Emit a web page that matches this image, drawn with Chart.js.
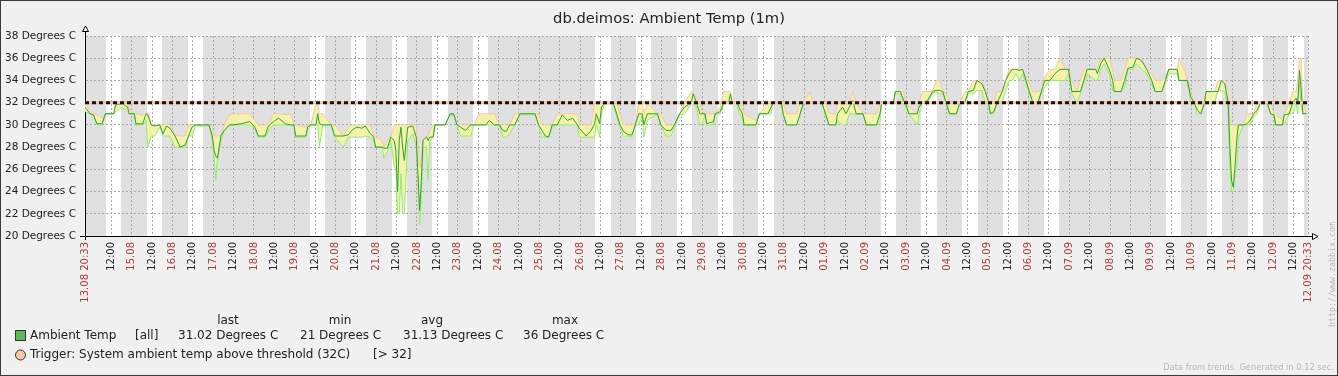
<!DOCTYPE html>
<html>
<head>
<meta charset="utf-8">
<title>db.deimos: Ambient Temp (1m)</title>
<script src="https://cdn.jsdelivr.net/npm/chart.js@4.4.1/dist/chart.umd.min.js"></script>
<style>
  html, body { margin: 0; padding: 0; background: #f0f0f0; }
  #wrap { width: 1338px; height: 376px; }
</style>
</head>
<body>
<div id="wrap"><canvas id="graph" width="1338" height="376"></canvas></div>
<script>
// Graph: db.deimos ambient temperature, 30 days of hourly trends
const graphTitle = 'db.deimos: Ambient Temp (1m)';
const startLabel = '13.08 20:33';
const endLabel = '12.09 20:33';
const startClock = 20 + 33 / 60;   // first sample at 20:33
const spanHours = 720;
const workStart = 9, workEnd = 18;

const dayLabels = ['14.08', '15.08', '16.08', '17.08', '18.08', '19.08', '20.08', '21.08', '22.08', '23.08',
  '24.08', '25.08', '26.08', '27.08', '28.08', '29.08', '30.08', '31.08', '01.09', '02.09',
  '03.09', '04.09', '05.09', '06.09', '07.09', '08.09', '09.09', '10.09', '11.09', '12.09'];
const weekendDays = ['17.08', '18.08', '24.08', '25.08', '31.08', '01.09', '07.09', '08.09'];

const yTicks = [20, 22, 24, 26, 28, 30, 32, 34, 36, 38];
const units = 'Degrees C';
const triggerValue = 32;

// hours since 13.08 20:33, with avg / min / max of the trend
const hours = [0, 3, 5, 7, 10, 12, 17, 18, 22, 25, 26, 29, 30, 34, 36, 37, 39, 41, 44, 46, 48, 50, 53, 56, 59, 61, 63, 65, 73, 75,
  76, 77, 78, 80, 82, 85, 87, 92, 97, 100, 102, 106, 108, 111, 114, 118, 121, 123, 124, 130, 131, 133, 136, 137, 138, 140, 145, 147, 152, 155,
  157, 160, 163, 165, 168, 170, 171, 175, 176, 178, 180, 182, 183, 184, 185, 186, 187, 188, 190, 193, 195, 196, 197, 198, 199, 201, 202, 203, 205, 206,
  212, 215, 217, 219, 221, 224, 227, 229, 232, 236, 238, 241, 244, 246, 248, 250, 253, 256, 265, 267, 269, 271, 273, 275, 278, 281, 284, 287, 290, 291,
  295, 298, 300, 301, 303, 304, 306, 311, 313, 315, 317, 320, 322, 324, 326, 328, 329, 331, 337, 339, 342, 345, 347, 350, 353, 357, 358, 360, 362, 363,
  365, 366, 370, 371, 374, 376, 379, 380, 381, 384, 385, 387, 388, 395, 397, 402, 404, 405, 410, 411, 413, 419, 421, 423, 427, 428, 434, 436, 438, 442,
  443, 446, 448, 450, 452, 454, 458, 460, 466, 468, 469, 476, 477, 480, 482, 483, 485, 490, 491, 493, 496, 499, 501, 503, 505, 507, 509, 513, 515, 518,
  520, 523, 525, 528, 530, 532, 533, 535, 537, 540, 542, 544, 546, 548, 550, 552, 554, 556, 558, 561, 563, 565, 568, 571, 574, 577, 579, 581, 584, 586,
  588, 590, 595, 596, 598, 600, 603, 605, 606, 610, 612, 614, 617, 619, 622, 625, 628, 630, 634, 636, 638, 643, 644, 647, 649, 651, 653, 655, 657, 659,
  660, 665, 667, 669, 671, 673, 674, 675, 676, 677, 678, 679, 682, 684, 686, 688, 690, 692, 696, 698, 700, 701, 705, 706, 709, 711, 713, 714, 715, 716,
  717, 719];
const avgTemp = [31.6, 31, 30.9, 30.1, 30.1, 31, 31, 31.8, 31.9, 31.6, 31, 31, 30.1, 30.1, 31, 30.9, 30, 29.9, 30, 29.2, 29.9, 29.7, 29, 28, 28.2, 29, 29.8, 30, 30, 29,
  27.7, 27.2, 27, 29, 29.5, 30, 30, 30.1, 30.3, 29.8, 29, 29, 29.9, 30.3, 30.6, 30.1, 30, 30, 29, 29, 29.8, 30, 30, 31, 30.1, 30, 30, 29, 29, 29.1,
  29.5, 29.8, 29.7, 29.9, 29.2, 28.9, 28, 28, 27.9, 27.9, 28.9, 28.6, 27.7, 24, 28.6, 29.8, 28, 26.8, 29.8, 29.9, 28.9, 25.6, 22.3, 25, 28.6, 28.9, 28.6, 28.9, 28.9, 30,
  30, 31, 31, 30, 29.8, 29.5, 30, 30, 30, 30, 30.4, 30, 30, 29.5, 29.4, 30, 30, 31, 31, 30, 29.5, 29, 28.9, 30, 30, 30.9, 30.4, 30.6, 30, 29.7,
  29, 29.5, 30.1, 31, 30.1, 31.6, 32, 32, 31, 30, 29.4, 29.1, 29.1, 30, 31, 31, 30, 31, 31, 30, 29.5, 29.5, 30, 31, 31.6, 32, 32.8, 32, 31, 31,
  31, 30.1, 30.3, 31, 31.2, 32, 32.1, 32.8, 32, 32, 31.6, 31, 30, 30, 31, 31, 31.6, 32, 32, 31, 30, 30, 31, 32, 32, 32, 31.9, 31, 30, 30,
  31, 31.6, 31, 31.6, 32.2, 31, 31, 30, 30, 31, 32, 32, 33, 33, 32.2, 32, 31, 31, 31.6, 32, 32.2, 33, 33.1, 33.1, 33, 32, 31, 31, 32, 32,
  33, 33.1, 34, 33.7, 33, 32, 31, 31.2, 32, 33, 34, 34.6, 35, 35, 34.9, 35, 34, 33, 32, 32, 33, 34, 34, 34.6, 35, 35, 35, 33, 33, 33,
  34, 35, 35, 34.6, 35.5, 36, 35, 34, 33, 33, 34, 35.1, 35.2, 36, 35.8, 35, 34, 33, 33, 34, 35, 35, 34, 34, 34, 32.5, 32, 31.3, 31, 32,
  33, 33, 33, 34, 33.7, 32, 28, 25, 24.4, 26.2, 28.6, 30, 30, 30.1, 30.4, 31, 31.3, 32, 32, 31, 30.9, 30, 30, 30.9, 31, 32, 32.4, 32, 34.9, 33.1,
  31, 31.02];
const minTemp = [31.2, 31, 30.9, 30, 30, 31, 31, 31.2, 31.6, 31.2, 31, 31, 30, 30, 30.4, 28, 29, 29, 29.8, 29, 29, 29, 28, 28, 28, 29, 29, 29.9, 29.9, 28.6,
  27.1, 25, 27, 28.6, 29.5, 30, 30, 30, 30, 29.7, 28.9, 28.9, 29.5, 30, 30, 30, 30, 30, 28.9, 28.9, 29.5, 30, 30, 30, 28, 30, 30, 28.9, 28, 28.9,
  28.9, 28.9, 28.9, 29, 28.9, 28.6, 28, 28, 27, 27.6, 28.6, 26.2, 26.2, 22, 22, 25.6, 22, 22, 28.6, 29.2, 28, 25, 21, 23.8, 28, 28, 25, 28.6, 28.9, 30,
  30, 30.9, 30.9, 30, 29, 29, 29, 30, 30, 30, 30, 30, 30, 28.9, 28.9, 29.2, 30, 30.9, 30.9, 30, 28.9, 28.9, 28.9, 29.8, 30, 30, 30, 30, 30, 28.9,
  28.9, 28.9, 28.9, 30.1, 28.9, 31, 31.9, 31.9, 30.7, 29.8, 29, 29, 28.9, 30, 30, 30.9, 28.9, 30.4, 31, 30, 29, 29, 29.8, 30.9, 31, 31.9, 32, 31.6, 30, 30,
  30.9, 30, 30, 30.9, 31, 31.9, 32, 32, 32, 31.9, 31, 30.7, 30, 30, 31, 31, 31, 32, 32, 30.9, 30, 30, 30.9, 32, 32, 32, 31.9, 30.9, 30, 30,
  30.4, 30, 30, 31, 31, 30.9, 31, 30, 30, 30.4, 32, 32, 32.8, 32.8, 32, 31.6, 31, 30, 31, 32, 32, 32.8, 33, 32.8, 32.8, 31.9, 31, 31, 31.9, 32,
  32.8, 32.8, 33.1, 33.1, 32, 31.6, 31, 31, 32, 32.1, 33, 34, 34, 34.6, 34, 34.6, 33.7, 32.8, 32, 32, 32.8, 33.4, 34, 34, 34, 34, 34.6, 32.8, 32, 32.8,
  33.7, 34.6, 34, 34, 35, 35.5, 34.6, 33.1, 33, 33, 33.4, 35, 35, 35.5, 35, 34.6, 33.7, 33, 33, 33.7, 34.6, 34.6, 34, 34, 33.9, 32, 31.9, 31, 31, 32,
  32, 32, 33, 33.1, 33, 31.6, 26.2, 24, 24, 25.6, 26.2, 28.9, 30, 30, 30, 30.7, 31, 31.9, 31.9, 31, 30.7, 30, 30, 30.1, 31, 31, 32, 31, 33.7, 31.6,
  31, 31];
const maxTemp = [32, 31.2, 31, 30.9, 30.6, 31, 31, 32, 32, 32, 31.3, 31, 31, 30.9, 31.1, 31.1, 30, 30, 30, 30, 30.1, 30, 29.1, 29, 29, 30, 30, 30, 30, 29.8,
  29, 29, 29, 29, 30, 30.9, 31, 31, 31, 30.4, 30, 30, 30.1, 31, 31, 30.9, 31, 30.1, 30, 29.8, 30, 30, 32, 32, 31, 31, 30, 30, 29, 29.7,
  30, 30, 30, 30, 30, 29, 28.9, 28.6, 28, 28.6, 28.9, 30, 30, 30, 30, 30, 30, 30, 30, 30, 30, 28, 26.2, 26.8, 28.9, 28.9, 28.9, 29.5, 30, 30,
  30, 31, 31, 30, 30, 30, 30, 30, 31, 31, 31, 31, 30, 30, 30, 30, 31, 31, 31, 31, 30, 30, 30, 30, 31, 31, 31, 31, 31, 30,
  30, 30, 32, 32, 32, 32, 32, 32, 32, 31, 30, 30, 30, 30, 32, 32, 31, 32, 31, 31, 30, 30, 30, 31, 32, 33, 33, 32, 32, 31,
  31, 31, 31, 31, 31.6, 33, 33, 33, 32, 32, 32, 31.6, 31, 30.4, 31, 32, 32, 32, 32, 32, 31, 31, 32, 32, 33, 32, 32, 32, 31, 31,
  32, 32, 32, 32, 33, 32, 31, 31, 31, 31.9, 32, 32, 33, 33, 33, 32, 31.6, 31, 32, 33, 33, 33, 34, 34, 33, 32.8, 32, 32, 32, 33,
  33, 34, 34, 34, 33.1, 32, 32, 32, 33, 33, 34, 35, 35, 35, 35, 35, 34.3, 33.7, 33, 33, 33.1, 34.3, 35, 35, 36, 35, 35, 34, 33, 34,
  35, 35, 35, 35, 36, 36, 36, 35, 34, 34, 35, 36, 36, 36, 36, 35, 34.6, 34, 34, 34.3, 35, 35, 36, 35, 34, 33, 32, 32, 32, 32,
  33, 33, 34, 34, 34, 33, 30, 30, 30, 30, 30, 30, 30, 31, 31, 31, 32, 32, 32, 32, 31, 31, 30.4, 31, 32, 33, 33, 34, 36, 36,
  32, 31];

const legendHeads = ['last', 'min', 'avg', 'max'];
const itemName = 'Ambient Temp';
const itemFunc = '[all]';
const legendStats = ['31.02 Degrees C', '21 Degrees C', '31.13 Degrees C', '36 Degrees C'];
const triggerText = 'Trigger: System ambient temp above threshold (32C)';
const triggerExpr = '[> 32]';
const footerText = 'Data from trends. Generated in 0.12 sec.';
const watermark = 'http://www.zabbix.com';

// x ticks: start, every 00:00 and 12:00, end
const xTicks = [{ value: 0, label: startLabel }];
dayLabels.forEach((d, i) => {
    const midnight = 24 * (i + 1) - startClock;
    if (midnight > 6) xTicks.push({ value: midnight, label: d }); // 14.08 is too close to the start label
    xTicks.push({ value: midnight + 12, label: '12:00' });
});
xTicks.push({ value: spanHours, label: endLabel });

const toPoints = vals => hours.map((h, i) => ({ x: h, y: vals[i] }));
const thresholdLine = [{ x: 0, y: triggerValue }, { x: spanHours, y: triggerValue }];

const zabbixFrame = {
    id: 'zabbixFrame',
    beforeDraw(chart) {
        const { ctx, chartArea: a } = chart;
        const x = chart.scales.x;
        ctx.save();
        ctx.fillStyle = '#f0f0f0';
        ctx.fillRect(0, 0, chart.width, chart.height);
        ctx.strokeStyle = '#3a3a3a';
        ctx.lineWidth = 1;
        ctx.strokeRect(0.5, 0.5, chart.width - 1, chart.height - 1);

        // non-working time grey, working hours white
        ctx.fillStyle = '#e0e0e0';
        ctx.fillRect(a.left, a.top, a.right - a.left, a.bottom - a.top);
        ctx.fillStyle = '#ffffff';
        dayLabels.forEach((d, i) => {
            if (weekendDays.includes(d)) return;
            const midnight = 24 * (i + 1) - startClock;
            const x1 = Math.round(x.getPixelForValue(midnight + workStart));
            const x2 = Math.round(x.getPixelForValue(midnight + workEnd));
            ctx.fillRect(x1, a.top, x2 - x1, a.bottom - a.top);
        });

        ctx.fillStyle = '#222';
        ctx.font = '14.7px "DejaVu Sans"';
        ctx.textAlign = 'center';
        ctx.textBaseline = 'middle';
        ctx.fillText(graphTitle, chart.width / 2, 19);
        ctx.restore();
    },
    afterDraw(chart) {
        const { ctx, chartArea: a } = chart;
        ctx.save();
        ctx.strokeStyle = '#000';
        ctx.lineWidth = 1;

        // axis extensions and arrow heads
        const ax = Math.round(a.left) + 0.5;
        const ay = Math.round(a.bottom) + 0.5;
        ctx.beginPath();
        ctx.moveTo(ax, 31); ctx.lineTo(ax, a.top);
        ctx.moveTo(ax, a.bottom); ctx.lineTo(ax, a.bottom + 4);
        ctx.moveTo(a.left - 5, ay); ctx.lineTo(a.left, ay);
        ctx.moveTo(a.right, ay); ctx.lineTo(a.right + 5, ay);
        ctx.stroke();
        ctx.fillStyle = '#fff';
        ctx.beginPath();
        ctx.moveTo(ax, 26); ctx.lineTo(ax + 3, 31.5); ctx.lineTo(ax - 3, 31.5); ctx.closePath();
        ctx.fill(); ctx.stroke();
        ctx.beginPath();
        ctx.moveTo(a.right + 10, ay); ctx.lineTo(a.right + 4.5, ay - 3); ctx.lineTo(a.right + 4.5, ay + 3); ctx.closePath();
        ctx.fill(); ctx.stroke();

        // legend table
        ctx.fillStyle = '#222';
        ctx.font = '12px "DejaVu Sans"';
        ctx.textBaseline = 'middle';
        ctx.textAlign = 'center';
        const headX = [228, 340, 432, 565];
        legendHeads.forEach((h, i) => ctx.fillText(h, headX[i], 321));

        ctx.textAlign = 'left';
        ctx.fillStyle = '#5cb85c';
        ctx.fillRect(15.5, 330.5, 10, 10);
        ctx.strokeStyle = '#333';
        ctx.strokeRect(15.5, 330.5, 10, 10);
        ctx.fillStyle = '#222';
        ctx.fillText(itemName, 30, 336);
        ctx.fillText(itemFunc, 135, 336);
        const statX = [178, 300, 403, 523];
        legendStats.forEach((s, i) => ctx.fillText(s, statX[i], 336));

        ctx.beginPath();
        ctx.arc(20.5, 355, 5, 0, Math.PI * 2);
        ctx.fillStyle = '#fcc9aa';
        ctx.fill();
        ctx.stroke();
        ctx.fillStyle = '#222';
        ctx.fillText(triggerText, 30, 355);
        ctx.fillText(triggerExpr, 373, 355);

        // footer + vertical watermark
        ctx.fillStyle = '#b8b8b8';
        ctx.font = '8.3px "DejaVu Sans"';
        ctx.textAlign = 'right';
        ctx.fillText(footerText, 1334, 368);
        ctx.translate(1333, 327);
        ctx.rotate(-Math.PI / 2);
        ctx.textAlign = 'left';
        ctx.font = '8.3px "DejaVu Sans Mono"';
        ctx.fillText(watermark, 0, 0);
        ctx.restore();
    }
};

Chart.defaults.font.family = '"DejaVu Sans"';

new Chart(document.getElementById('graph'), {
    type: 'line',
    data: {
        datasets: [
            { label: 'threshold', data: thresholdLine, borderColor: '#111', borderWidth: 3, borderDash: [4, 3] },
            { label: 'threshold band', data: thresholdLine, borderColor: '#f7c3a3', borderWidth: 3 },
            { label: 'avg', data: toPoints(avgTemp), borderColor: '#30a030', borderWidth: 1 },
            { label: 'min', data: toPoints(minTemp), borderColor: '#90ee70', borderWidth: 1 },
            { label: 'max', data: toPoints(maxTemp), borderColor: '#f8c6a6', borderWidth: 1, fill: '-1', backgroundColor: '#f2f2aa' }
        ]
    },
    options: {
        responsive: false,
        animation: false,
        devicePixelRatio: 1,
        layout: { padding: { top: 36, right: 30, left: 0, bottom: 0 } },
        elements: { point: { radius: 0 }, line: { tension: 0 } },
        plugins: {
            legend: { display: false },
            tooltip: { enabled: false },
            title: { display: false }
        },
        scales: {
            x: {
                type: 'linear',
                min: 0,
                max: spanHours,
                afterBuildTicks: scale => { scale.ticks = xTicks.map(t => ({ value: t.value })); },
                afterFit: scale => { scale.height = 140; },
                grid: { color: '#a8a8a8', drawTicks: false },
                border: { display: true, color: '#000', width: 1, dash: [2, 2] },
                ticks: {
                    autoSkip: false,
                    minRotation: 90,
                    maxRotation: 90,
                    padding: 6,
                    font: { size: 10 },
                    color: ctx => (xTicks[ctx.index] && xTicks[ctx.index].label !== '12:00') ? '#aa3c3c' : '#222',
                    callback: (v, i) => xTicks[i] ? xTicks[i].label : ''
                }
            },
            y: {
                min: yTicks[0],
                max: yTicks[yTicks.length - 1],
                afterBuildTicks: scale => { scale.ticks = yTicks.map(v => ({ value: v })); },
                afterFit: scale => { scale.width = 85; },
                grid: { color: '#a8a8a8', drawTicks: false },
                border: { display: true, color: '#000', width: 1, dash: [2, 2] },
                ticks: {
                    padding: 9,
                    font: { size: 10.5 },
                    color: '#222',
                    callback: v => v + ' ' + units
                }
            }
        }
    },
    plugins: [zabbixFrame]
});
</script>
</body>
</html>
